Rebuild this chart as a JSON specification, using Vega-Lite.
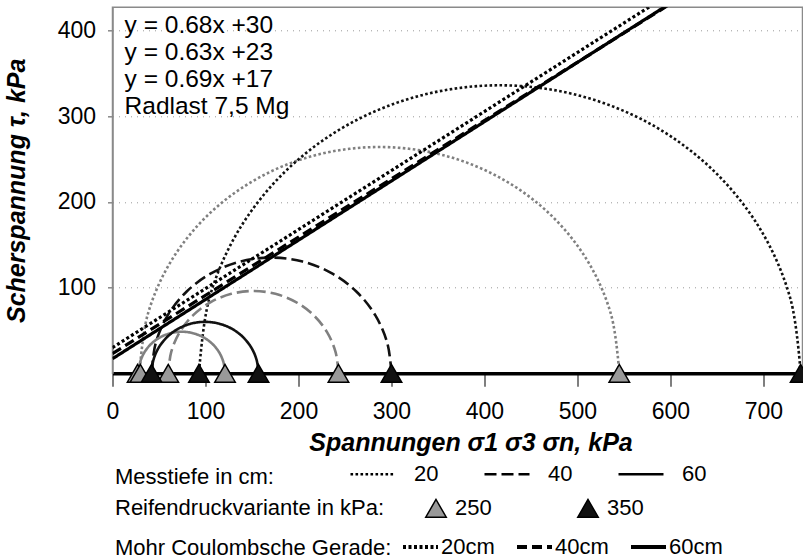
{
  "$schema": "https://vega.github.io/schema/vega-lite/v6.json",
  "width": 690,
  "height": 366,
  "autosize": {"type": "none"},
  "padding": {"left": 112.5, "top": 7.3, "right": 0.5, "bottom": 185.7},
  "background": "white",
  "config": {
    "font": "Liberation Sans",
    "view": {"stroke": "#8a8a8a", "strokeWidth": 1.5},
    "legend": {
      "orient": "none",
      "direction": "horizontal",
      "titleOrient": "left",
      "titleAnchor": "middle",
      "titleBaseline": "middle",
      "titleFontSize": 22,
      "titleFontWeight": "normal",
      "titleColor": "black",
      "titleLimit": 500,
      "labelFontSize": 22,
      "labelColor": "black",
      "labelLimit": 200,
      "padding": 0
    }
  },
  "datasets": {
    "circles": [
      {"depth": "20", "kPa": 250, "i": 0, "x": 545, "y": 0},
      {"depth": "20", "kPa": 250, "i": 1, "x": 536.2, "y": 68.3},
      {"depth": "20", "kPa": 250, "i": 2, "x": 510.4, "y": 132},
      {"depth": "20", "kPa": 250, "i": 3, "x": 469.4, "y": 186.7},
      {"depth": "20", "kPa": 250, "i": 4, "x": 416, "y": 228.6},
      {"depth": "20", "kPa": 250, "i": 5, "x": 353.8, "y": 255},
      {"depth": "20", "kPa": 250, "i": 6, "x": 287, "y": 264},
      {"depth": "20", "kPa": 250, "i": 7, "x": 220.2, "y": 255},
      {"depth": "20", "kPa": 250, "i": 8, "x": 158, "y": 228.6},
      {"depth": "20", "kPa": 250, "i": 9, "x": 104.6, "y": 186.7},
      {"depth": "20", "kPa": 250, "i": 10, "x": 63.6, "y": 132},
      {"depth": "20", "kPa": 250, "i": 11, "x": 37.8, "y": 68.3},
      {"depth": "20", "kPa": 250, "i": 12, "x": 29, "y": 0},
      {"depth": "20", "kPa": 350, "i": 0, "x": 740, "y": 0},
      {"depth": "20", "kPa": 350, "i": 1, "x": 729, "y": 87},
      {"depth": "20", "kPa": 350, "i": 2, "x": 696.7, "y": 168},
      {"depth": "20", "kPa": 350, "i": 3, "x": 645.2, "y": 237.6},
      {"depth": "20", "kPa": 350, "i": 4, "x": 578.3, "y": 291},
      {"depth": "20", "kPa": 350, "i": 5, "x": 500.2, "y": 324.5},
      {"depth": "20", "kPa": 350, "i": 6, "x": 416.5, "y": 336},
      {"depth": "20", "kPa": 350, "i": 7, "x": 332.8, "y": 324.5},
      {"depth": "20", "kPa": 350, "i": 8, "x": 254.7, "y": 291},
      {"depth": "20", "kPa": 350, "i": 9, "x": 187.8, "y": 237.6},
      {"depth": "20", "kPa": 350, "i": 10, "x": 136.3, "y": 168},
      {"depth": "20", "kPa": 350, "i": 11, "x": 104, "y": 87},
      {"depth": "20", "kPa": 350, "i": 12, "x": 93, "y": 0},
      {"depth": "40", "kPa": 250, "i": 0, "x": 243, "y": 0},
      {"depth": "40", "kPa": 250, "i": 1, "x": 239.9, "y": 24.8},
      {"depth": "40", "kPa": 250, "i": 2, "x": 230.7, "y": 48},
      {"depth": "40", "kPa": 250, "i": 3, "x": 216.2, "y": 67.9},
      {"depth": "40", "kPa": 250, "i": 4, "x": 197.3, "y": 83.1},
      {"depth": "40", "kPa": 250, "i": 5, "x": 175.2, "y": 92.7},
      {"depth": "40", "kPa": 250, "i": 6, "x": 151.5, "y": 96},
      {"depth": "40", "kPa": 250, "i": 7, "x": 127.8, "y": 92.7},
      {"depth": "40", "kPa": 250, "i": 8, "x": 105.7, "y": 83.1},
      {"depth": "40", "kPa": 250, "i": 9, "x": 86.8, "y": 67.9},
      {"depth": "40", "kPa": 250, "i": 10, "x": 72.3, "y": 48},
      {"depth": "40", "kPa": 250, "i": 11, "x": 63.1, "y": 24.8},
      {"depth": "40", "kPa": 250, "i": 12, "x": 60, "y": 0},
      {"depth": "40", "kPa": 350, "i": 0, "x": 300, "y": 0},
      {"depth": "40", "kPa": 350, "i": 1, "x": 295.6, "y": 34.9},
      {"depth": "40", "kPa": 350, "i": 2, "x": 282.7, "y": 67.5},
      {"depth": "40", "kPa": 350, "i": 3, "x": 262.2, "y": 95.5},
      {"depth": "40", "kPa": 350, "i": 4, "x": 235.5, "y": 116.9},
      {"depth": "40", "kPa": 350, "i": 5, "x": 204.4, "y": 130.4},
      {"depth": "40", "kPa": 350, "i": 6, "x": 171, "y": 135},
      {"depth": "40", "kPa": 350, "i": 7, "x": 137.6, "y": 130.4},
      {"depth": "40", "kPa": 350, "i": 8, "x": 106.5, "y": 116.9},
      {"depth": "40", "kPa": 350, "i": 9, "x": 79.8, "y": 95.5},
      {"depth": "40", "kPa": 350, "i": 10, "x": 59.3, "y": 67.5},
      {"depth": "40", "kPa": 350, "i": 11, "x": 46.4, "y": 34.9},
      {"depth": "40", "kPa": 350, "i": 12, "x": 42, "y": 0},
      {"depth": "60", "kPa": 250, "i": 0, "x": 121, "y": 0},
      {"depth": "60", "kPa": 250, "i": 1, "x": 119.4, "y": 12.6},
      {"depth": "60", "kPa": 250, "i": 2, "x": 114.8, "y": 24.3},
      {"depth": "60", "kPa": 250, "i": 3, "x": 107.4, "y": 34.3},
      {"depth": "60", "kPa": 250, "i": 4, "x": 97.8, "y": 42},
      {"depth": "60", "kPa": 250, "i": 5, "x": 86.5, "y": 46.8},
      {"depth": "60", "kPa": 250, "i": 6, "x": 74.5, "y": 48.5},
      {"depth": "60", "kPa": 250, "i": 7, "x": 62.5, "y": 46.8},
      {"depth": "60", "kPa": 250, "i": 8, "x": 51.2, "y": 42},
      {"depth": "60", "kPa": 250, "i": 9, "x": 41.6, "y": 34.3},
      {"depth": "60", "kPa": 250, "i": 10, "x": 34.2, "y": 24.3},
      {"depth": "60", "kPa": 250, "i": 11, "x": 29.6, "y": 12.6},
      {"depth": "60", "kPa": 250, "i": 12, "x": 28, "y": 0},
      {"depth": "60", "kPa": 350, "i": 0, "x": 157, "y": 0},
      {"depth": "60", "kPa": 350, "i": 1, "x": 155, "y": 15.5},
      {"depth": "60", "kPa": 350, "i": 2, "x": 149.3, "y": 30},
      {"depth": "60", "kPa": 350, "i": 3, "x": 140.2, "y": 42.4},
      {"depth": "60", "kPa": 350, "i": 4, "x": 128.3, "y": 52},
      {"depth": "60", "kPa": 350, "i": 5, "x": 114.4, "y": 58},
      {"depth": "60", "kPa": 350, "i": 6, "x": 99.5, "y": 60},
      {"depth": "60", "kPa": 350, "i": 7, "x": 84.6, "y": 58},
      {"depth": "60", "kPa": 350, "i": 8, "x": 70.7, "y": 52},
      {"depth": "60", "kPa": 350, "i": 9, "x": 58.8, "y": 42.4},
      {"depth": "60", "kPa": 350, "i": 10, "x": 49.7, "y": 30},
      {"depth": "60", "kPa": 350, "i": 11, "x": 44, "y": 15.5},
      {"depth": "60", "kPa": 350, "i": 12, "x": 42, "y": 0}
    ],
    "mohr": [
      {"line": "40cm", "x": 0, "y": 23},
      {"line": "40cm", "x": 700, "y": 499},
      {"line": "60cm", "x": 0, "y": 17},
      {"line": "60cm", "x": 700, "y": 501},
      {"line": "20cm", "x": 0, "y": 30},
      {"line": "20cm", "x": 700, "y": 512}
    ],
    "points": [
      {"Reifendruck": "250", "x": 27},
      {"Reifendruck": "250", "x": 30},
      {"Reifendruck": "250", "x": 60},
      {"Reifendruck": "250", "x": 121},
      {"Reifendruck": "250", "x": 243},
      {"Reifendruck": "250", "x": 545},
      {"Reifendruck": "350", "x": 42},
      {"Reifendruck": "350", "x": 93},
      {"Reifendruck": "350", "x": 157},
      {"Reifendruck": "350", "x": 300},
      {"Reifendruck": "350", "x": 740}
    ]
  },
  "layer": [
    {
      "data": {"name": "circles"},
      "mark": {"type": "line", "strokeWidth": 2.6, "interpolate": "cardinal", "clip": true},
      "encoding": {
        "x": {
          "field": "x", "type": "quantitative",
          "scale": {"domain": [0, 742], "nice": false, "zero": false},
          "axis": {
            "values": [0, 100, 200, 300, 400, 500, 600, 700],
            "title": "Spannungen σ1 σ3 σn, kPa",
            "titleFontSize": 25, "titleFontWeight": "bold", "titleFontStyle": "italic",
            "titleColor": "black", "titlePadding": 7, "titleX": 358,
            "labelFontSize": 23, "labelColor": "black", "labelPadding": 14,
            "labelFlush": false, "labelOverlap": false,
            "tickSize": 13, "tickColor": "#555555", "tickWidth": 1.5,
            "domainColor": "black", "domainWidth": 3.5, "grid": false
          }
        },
        "y": {
          "field": "y", "type": "quantitative",
          "scale": {"domain": [0, 427], "nice": false},
          "axis": {
            "values": [100, 200, 300, 400],
            "title": "Scherspannung τ, kPa",
            "titleFontSize": 25, "titleFontWeight": "bold", "titleFontStyle": "italic",
            "titleColor": "black", "titlePadding": 28,
            "labelFontSize": 23, "labelColor": "black", "labelPadding": 12,
            "tickSize": 5, "tickColor": "#888888", "tickWidth": 1.5,
            "domainColor": "#8a8a8a", "domainWidth": 1.5,
            "grid": true, "gridColor": "#999999", "gridDash": [1, 5], "gridWidth": 1
          }
        },
        "stroke": {
          "field": "kPa", "type": "nominal",
          "scale": {"domain": [250, 350], "range": ["#808080", "#111111"]},
          "legend": null
        },
        "strokeDash": {
          "field": "depth", "type": "nominal",
          "scale": {"domain": ["20", "40", "60"], "range": [[2.6, 2.4], [12, 5], [1, 0]]},
          "legend": {
            "title": "Messtiefe in cm:",
            "legendX": 2.5, "legendY": 443,
            "titleBaseline": "line-top", "titleLineHeight": 20,
            "symbolType": "stroke", "symbolSize": 2025,
            "symbolStrokeWidth": 2.5, "symbolStrokeColor": "black",
            "labelOffset": 17, "columnPadding": 40, "titlePadding": 75
          }
        },
        "order": {"field": "i", "type": "quantitative"}
      }
    },
    {
      "data": {"name": "mohr"},
      "mark": {"type": "line", "strokeWidth": 3.2, "color": "black", "clip": true},
      "encoding": {
        "x": {"field": "x", "type": "quantitative"},
        "y": {"field": "y", "type": "quantitative"},
        "strokeDash": {
          "field": "line", "type": "nominal",
          "scale": {"domain": ["20cm", "40cm", "60cm"], "range": [[3, 2.5], [10, 5], [1, 0]]},
          "legend": {
            "title": "Mohr Coulombsche Gerade:",
            "legendX": 2.5, "legendY": 520,
            "titleBaseline": "line-top", "titleLineHeight": 14,
            "symbolType": "stroke", "symbolSize": 1225,
            "symbolStrokeWidth": 4, "symbolStrokeColor": "black",
            "labelOffset": 1, "columnPadding": 14, "titlePadding": 9
          }
        }
      }
    },
    {
      "data": {"name": "points"},
      "mark": {"type": "point", "shape": "triangle-up", "filled": true, "size": 420, "stroke": "black", "strokeWidth": 1.5, "opacity": 1},
      "encoding": {
        "x": {"field": "x", "type": "quantitative"},
        "y": {"datum": 0},
        "fill": {
          "field": "Reifendruck", "type": "nominal",
          "scale": {"domain": ["250", "350"], "range": ["#999999", "#111111"]},
          "legend": {
            "title": "Reifendruckvariante in kPa:",
            "orient": "none",
            "legendX": 2.5, "legendY": 490,
            "symbolType": "triangle-up", "symbolSize": 420,
            "symbolStrokeColor": "black", "symbolStrokeWidth": 1.5,
            "labelOffset": 8, "columnPadding": 82, "titlePadding": 40
          }
        }
      }
    },
    {
      "data": {"values": [{"lines": ["y = 0.68x +30", "y = 0.63x +23", "y = 0.69x +17", "Radlast 7,5 Mg"]}]},
      "mark": {"type": "text", "align": "left", "baseline": "top", "fontSize": 24.5, "lineHeight": 27, "color": "black"},
      "encoding": {
        "x": {"datum": 13},
        "y": {"datum": 419},
        "text": {"field": "lines"}
      }
    }
  ],
  "resolve": {"scale": {"strokeDash": "independent"}}
}
